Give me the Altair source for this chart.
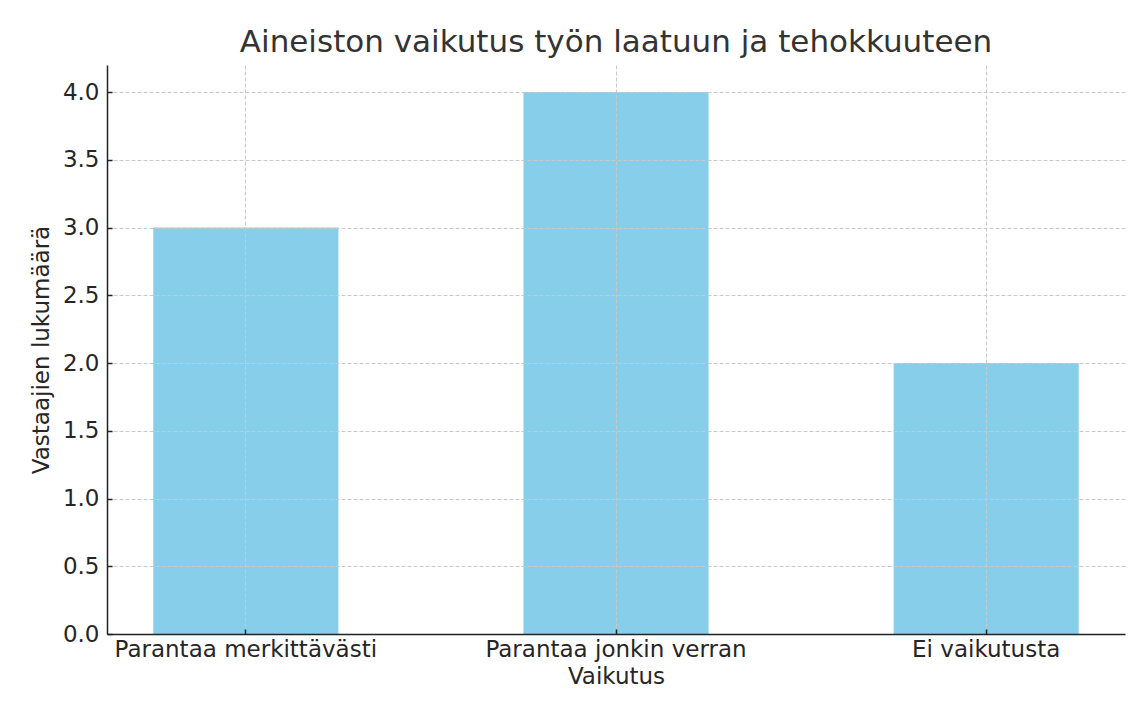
import altair as alt
import pandas as pd

categories = ["Parantaa merkittävästi", "Parantaa jonkin verran", "Ei vaikutusta"]
counts = [3, 4, 2]
y_tick_values = [0.0, 0.5, 1.0, 1.5, 2.0, 2.5, 3.0, 3.5, 4.0]
y_domain = [0, 4.2]

df = pd.DataFrame({"Vaikutus": categories, "count": counts})

FONT = "DejaVu Sans"
TXT = "#262626"
GRID = "#c8c8c8"
SPINE = "#222222"

xscale = alt.Scale(domain=categories, paddingInner=0.5, paddingOuter=0.125)
yscale = alt.Scale(domain=y_domain, nice=False, zero=True)

bars = alt.Chart(df).mark_bar(color="#87CEEB").encode(
    x=alt.X(
        "Vaikutus:N",
        sort=categories,
        scale=xscale,
        axis=alt.Axis(
            title="Vaikutus",
            orient="bottom",
            labelAngle=0,
            labelLimit=0,
            grid=True,
            gridDash=[4, 2],
            gridColor=GRID,
            gridWidth=1,
            ticks=False,
            tickSize=0,
            domainColor=SPINE,
            domainWidth=1.5,
            labelFont=FONT,
            labelFontSize=23,
            labelColor=TXT,
            labelPadding=4,
            titleFont=FONT,
            titleFontSize=23,
            titleFontWeight="normal",
            titleColor=TXT,
            titlePadding=4,
            zindex=1,
        ),
    ),
    y=alt.Y(
        "count:Q",
        scale=yscale,
        axis=alt.Axis(
            title="Vastaajien lukumäärä",
            orient="left",
            values=y_tick_values,
            format=".1f",
            grid=True,
            gridDash=[4, 2],
            gridColor=GRID,
            gridWidth=1,
            ticks=False,
            tickSize=0,
            domainColor=SPINE,
            domainWidth=1.5,
            labelFont=FONT,
            labelFontSize=23,
            labelColor=TXT,
            labelPadding=8,
            titleFont=FONT,
            titleFontSize=23,
            titleFontWeight="normal",
            titleColor=TXT,
            titlePadding=9,
            zindex=1,
        ),
    ),
)

# second, invisible layer that carries inward-pointing tick marks
tick_layer = alt.Chart(df).mark_bar(opacity=0).encode(
    x=alt.X(
        "Vaikutus:N",
        sort=categories,
        scale=xscale,
        axis=alt.Axis(
            orient="bottom",
            offset=-5,
            ticks=True,
            tickSize=5,
            tickColor=SPINE,
            tickWidth=1.5,
            labels=False,
            domain=False,
            grid=False,
            title=None,
            zindex=1,
        ),
    ),
    y=alt.Y(
        "count:Q",
        scale=yscale,
        axis=alt.Axis(
            orient="left",
            offset=-5,
            values=y_tick_values,
            ticks=True,
            tickSize=5,
            tickColor=SPINE,
            tickWidth=1.5,
            labels=False,
            domain=False,
            grid=False,
            title=None,
            zindex=1,
        ),
    ),
)

chart = (
    alt.layer(bars, tick_layer)
    .resolve_scale(x="shared", y="shared")
    .resolve_axis(x="independent", y="independent")
    .properties(
        width=1018,
        height=569,
        background="white",
        autosize=alt.AutoSizeParams(type="none"),
        padding={"left": 99, "top": 57, "right": 14, "bottom": 70},
        title=alt.TitleParams(
            "Aineiston vaikutus työn laatuun ja tehokkuuteen",
            font=FONT,
            fontSize=31,
            fontWeight="normal",
            color="#333333",
            anchor="middle",
            baseline="alphabetic",
            offset=11,
            dy=29,
        ),
    )
    .configure_view(stroke=None)
)

chart.save("out.html", embed_options={"renderer": "svg", "actions": False})
